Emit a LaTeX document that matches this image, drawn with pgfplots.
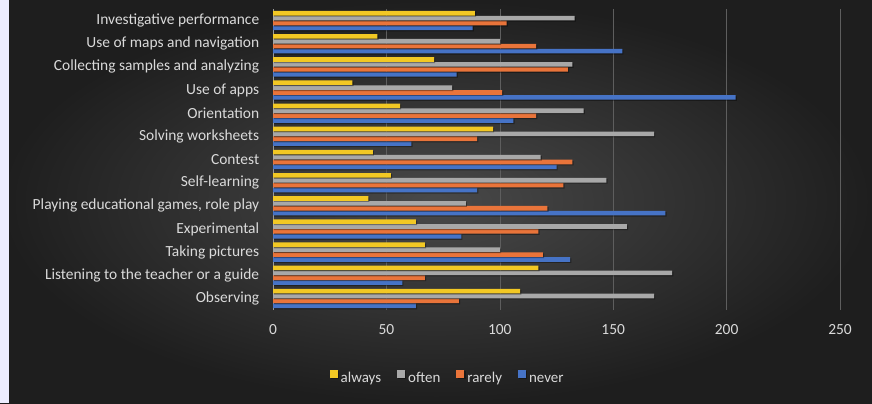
\documentclass[border=0pt]{standalone}
\usepackage{fontspec}
\setmainfont{Carlito}
\usepackage{pgfplots}
\pgfplotsset{compat=1.18}

\definecolor{bgInner}{HTML}{494949}
\definecolor{bgOuter}{HTML}{1E1E1E}
\definecolor{txt}{HTML}{DADADA}
\definecolor{gridc}{HTML}{5E5E5E}
\definecolor{cAlways}{HTML}{F2C824}
\definecolor{cOften}{HTML}{A8A8A8}
\definecolor{cRarely}{HTML}{E9743A}
\definecolor{cNever}{HTML}{4673C6}

\tikzset{barshadow/.style={preaction={fill=black, fill opacity=0.35,
  transform canvas={xshift=1.2bp, yshift=-1.2bp}}}}

\begin{document}
\begin{tikzpicture}[x=1bp,y=1bp]
  % backdrop
  \shade[inner color=bgInner, outer color=bgOuter] (0,0) rectangle (872,403);
  \fill[color=white!93!blue] (0,0) rectangle (9,403);
  \begin{axis}[
    at={(273bp,93bp)}, anchor=south west,
    scale only axis, width=567bp, height=301bp,
    xmin=0, xmax=250, ymin=-0.5, ymax=12.5,
    y dir=reverse,
    xbar=0.3bp, bar width=4.6bp,
    xtick={0,50,...,250},
    ytick={0,...,12},
    yticklabels={Investigative performance, Use of maps and navigation,
      Collecting samples and analyzing, Use of apps, Orientation,
      Solving worksheets, Contest, Self-learning,
      {Playing educational games, role play}, Experimental,
      Taking pictures, Listening to the teacher or a guide, Observing},
    axis lines=left,
    axis line style={-},
    x axis line style={draw=none},
    y axis line style={draw=gray!80, line width=0.8bp},
    major tick length=0pt,
    xmajorgrids,
    grid style={color=gridc, line width=0.6bp},
    /pgf/number format/assume math mode=true,
    ticklabel style={font=\fontsize{15.5}{17}\selectfont, text=txt},
    yticklabel style={xshift=-10.3bp},
    xticklabel style={yshift=-11bp},
    reverse legend,
    legend style={at={(0.308,-0.227)}, anchor=center, legend columns=4,
      draw=none, fill=none, text=txt,
      font=\fontsize{15}{17}\selectfont,
      nodes={text height=8bp, text depth=3bp},
      /tikz/every odd column/.append style={column sep=1bp},
      /tikz/every even column/.append style={column sep=14bp}},
    legend image code/.code={\fill[#1] (0bp,2bp) rectangle (8bp,10bp);},
  ]
    % series are added bottom-up so that "always" sits on top of each group
    \addplot[fill=cNever, draw=none, barshadow] coordinates {
      (88,0) (154,1) (81,2) (204,3) (106,4) (61,5) (125,6)
      (90,7) (173,8) (83,9) (131,10) (57,11) (63,12)};
    \addplot[fill=cRarely, draw=none, barshadow] coordinates {
      (103,0) (116,1) (130,2) (101,3) (116,4) (90,5) (132,6)
      (128,7) (121,8) (117,9) (119,10) (67,11) (82,12)};
    \addplot[fill=cOften, draw=none, barshadow] coordinates {
      (133,0) (100,1) (132,2) (79,3) (137,4) (168,5) (118,6)
      (147,7) (85,8) (156,9) (100,10) (176,11) (168,12)};
    \addplot[fill=cAlways, draw=none, barshadow] coordinates {
      (89,0) (46,1) (71,2) (35,3) (56,4) (97,5) (44,6)
      (52,7) (42,8) (63,9) (67,10) (117,11) (109,12)};
    \legend{never, rarely, often, always}
  \end{axis}
\end{tikzpicture}
\end{document}
